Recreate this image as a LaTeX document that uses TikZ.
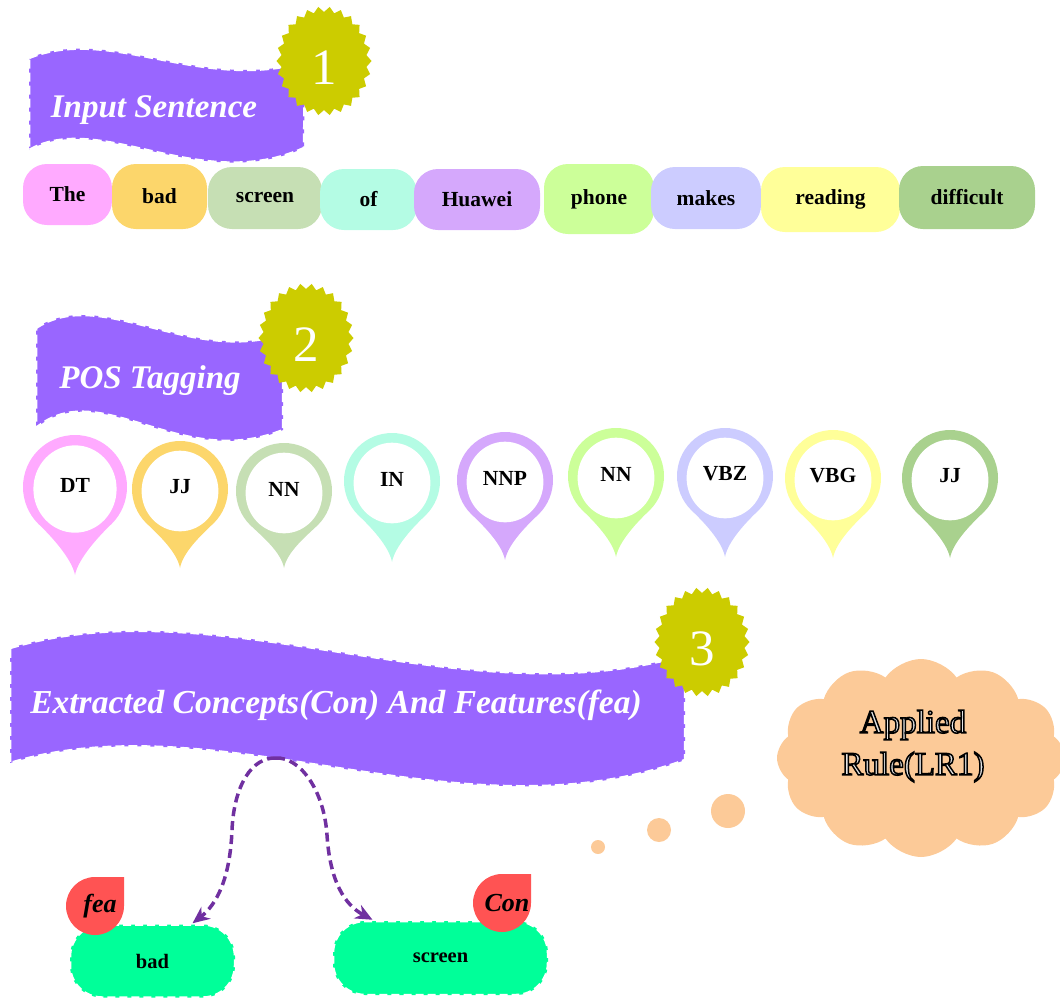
\documentclass[tikz,border=0pt]{standalone}
\usepackage{fontspec}
\setmainfont{Liberation Serif}
\usetikzlibrary{shapes.symbols, arrows.meta, calc}

% palette
\definecolor{bannerpurple}{HTML}{9966FF}
\definecolor{badgeolive}{HTML}{CCCC00}
\definecolor{cPink}{HTML}{FFAAFF}
\definecolor{cGold}{HTML}{FCD66B}
\definecolor{cSage}{HTML}{C6DFB4}
\definecolor{cMint}{HTML}{B4FCE4}
\definecolor{cLav}{HTML}{D5A8FC}
\definecolor{cLime}{HTML}{CCFF99}
\definecolor{cPeri}{HTML}{CCCCFF}
\definecolor{cLemon}{HTML}{FFFF99}
\definecolor{cGreen}{HTML}{A9D18E}
\definecolor{peach}{HTML}{FCCA98}
\definecolor{flowpurple}{HTML}{7030A0}
\definecolor{dropred}{HTML}{FF5353}
\definecolor{conceptgreen}{HTML}{00FF99}

% outlined lettering: fill and stroke the glyphs (text render mode 2)
\newcommand{\outlined}[1]{\special{pdf:literal direct 2 Tr 1.5 w 0 G}#1\special{pdf:literal direct 0 Tr}}

% numbered badge: 26-point star, slightly taller than wide
\newcommand{\badge}[4]{% #1 cx, #2 cy, #3 name, #4 digit
  \fill[badgeolive] plot[samples at={0,1,...,51}, variable=\k]
    ({#1 + 47.5*(1-0.1*mod(\k,2))*cos(360/52*\k)}, {#2 + 54.5*(1-0.1*mod(\k,2))*sin(360/52*\k)}) -- cycle;
  \node[badgetext] (#3) at (#1,#2+7) {#4};
}

% map-pin tag: ring with a pointed tail
\newcommand{\tagpin}[7]{% #1 name, #2 cx, #3 cy, #4 radius, #5 tail, #6 colour, #7 tag
  \fill[#6] (#2,#3+#5) .. controls (#2-3,#3+#5-16) and (#2-0.45*#4,#3+0.95*#4)
    .. (#2-0.7071*#4,#3+0.7071*#4) arc[start angle=135, end angle=405, radius=#4]
    .. controls (#2+0.45*#4,#3+0.95*#4) and (#2+3,#3+#5-16) .. cycle;
  \fill[white] (#2,#3+2) ellipse[x radius=0.8*#4, y radius=0.84*#4];
  \node[pintext] (#1) at (#2,#3-2) {#7};
}

% drop-shaped marker with a square top-right corner
\newcommand{\droplabel}[4]{% #1 name, #2 cx, #3 cy, #4 text
  \fill[dropred] (#2,#3-29) -- (#2+29,#3-29) -- (#2+29,#3)
    arc[start angle=0, end angle=270, radius=29] -- cycle;
  \node[droptext] (#1) at (#2+5,#3) {#4};
}

\begin{document}
\begin{tikzpicture}[x=1pt, y=-1pt,
  banner/.style={fill=bannerpurple, draw=white, line width=2.5pt, dash pattern=on 9pt off 4pt},
  bannertext/.style={text=white, font=\fontsize{33}{38}\selectfont\bfseries\itshape, anchor=base, inner sep=0pt},
  badgetext/.style={text=white, font=\fontsize{51}{56}\selectfont, inner sep=0pt},
  wordbox/.style={rounded corners=24pt, inner sep=0pt, font=\fontsize{21.5}{24}\selectfont\bfseries},
  pintext/.style={font=\fontsize{21.5}{24}\selectfont\bfseries, inner sep=0pt},
  conceptbox/.style={fill=conceptgreen, draw=white, line width=2.5pt, dash pattern=on 8pt off 4pt,
    rounded corners=32pt, inner sep=0pt, font=\fontsize{20.5}{24}\selectfont\bfseries},
  droptext/.style={font=\fontsize{26}{30}\selectfont\bfseries\itshape, inner sep=0pt},
  flow/.style={draw=flowpurple, line width=3.5pt, dash pattern=on 9pt off 5pt,
    -{Stealth[length=17pt, width=15pt]}},
  ruletext/.style={font=\fontsize{33}{42}\selectfont, align=center, inner sep=0pt},
  bubble/.style={circle, fill=peach, inner sep=0pt}
]
\useasboundingbox (0,0) rectangle (1060,1002);

% ---------- step 1: input sentence ----------
\draw[banner] (29,58) .. controls (110,25) and (200,92) .. (305,62) -- (304,148)
  .. controls (200,195) and (100,110) .. (29,150) -- cycle;
\node[bannertext] (b1) at (154,117) {Input Sentence};
\badge{324}{61}{n1}{1}

\node[wordbox, fill=cPink,  minimum width=89pt,  minimum height=61pt] (w1) at (67.5,194.5) {The};
\node[wordbox, fill=cGold,  minimum width=95pt,  minimum height=65pt] (w2) at (159.5,196.5) {bad};
\node[wordbox, fill=cSage,  minimum width=114pt, minimum height=62pt] (w3) at (265,198) {screen};
\node[wordbox, fill=cMint,  minimum width=97pt,  minimum height=61pt] (w4) at (368.5,199.5) {of};
\node[wordbox, fill=cLav,   minimum width=126pt, minimum height=61pt] (w5) at (477,199.5) {Huawei};
\node[wordbox, fill=cLime,  minimum width=110pt, minimum height=70pt] (w6) at (599,199) {phone};
\node[wordbox, fill=cPeri,  minimum width=110pt, minimum height=62pt] (w7) at (706,198) {makes};
\node[wordbox, fill=cLemon, minimum width=139pt, minimum height=65pt] (w8) at (830.5,199.5) {reading};
\node[wordbox, fill=cGreen, minimum width=136pt, minimum height=63pt] (w9) at (967,197.5) {difficult};

% ---------- step 2: POS tagging ----------
\draw[banner] (36,328) .. controls (100,285) and (190,365) .. (283,334) -- (283,430)
  .. controls (180,472) and (100,375) .. (36,428) -- cycle;
\node[bannertext] (b2) at (150,388) {POS Tagging};
\badge{306}{338}{n2}{2}

\tagpin{t1}{75}{487}{52}{88}{cPink}{DT}
\tagpin{t2}{180}{489}{48}{79}{cGold}{JJ}
\tagpin{t3}{284}{491}{48}{77}{cSage}{NN}
\tagpin{t4}{392}{481}{48}{81}{cMint}{IN}
\tagpin{t5}{505}{480}{48}{80}{cLav}{NNP}
\tagpin{t6}{616}{476}{48}{81}{cLime}{NN}
\tagpin{t7}{725}{476}{48}{81}{cPeri}{VBZ}
\tagpin{t8}{833}{478}{48}{80}{cLemon}{VBG}
\tagpin{t9}{950}{478}{48}{80}{cGreen}{JJ}

% ---------- step 3: extracted concepts and features ----------
\draw[banner] (10,648) .. controls (220,585) and (460,720) .. (685,655) -- (685,760)
  .. controls (460,842) and (220,700) .. (10,763) -- cycle;
\node[bannertext, font=\fontsize{33.5}{38}\selectfont\bfseries\itshape] (b3) at (336,713)
  {Extracted Concepts(Con) And Features(fea)};
\badge{702}{642}{n3}{3}

% thought cloud with the applied rule
\node[cloud, cloud puffs=12, cloud puff arc=110, aspect=1.45, fill=peach,
  minimum width=288pt, minimum height=198pt, inner sep=0pt] (rule) at (921,758) {};
\node[ruletext, text=gray!20] (ruletxt) at (913,746)
  {\outlined{Applied}\\\outlined{Rule(LR1)}};

\node[bubble, minimum size=34pt] (dotA) at (728,811) {};
\node[bubble, minimum size=24pt] (dotB) at (659,830) {};
\node[bubble, minimum size=14pt] (dotC) at (598,847) {};

% extracted items
\node[conceptbox, minimum width=165pt, minimum height=73pt] (badbox) at (152.5,961) {bad};
\node[conceptbox, minimum width=215pt, minimum height=74pt] (scrbox) at (440.5,958) {screen};

\coordinate (split) at (276,758);
\draw[flow] (split) .. controls (252,757) and (234,785) .. (232,830)
  .. controls (230,880) and (216,905) .. ([xshift=40pt]badbox.north);
\draw[flow] (split) .. controls (300,757) and (324,790) .. (327,835)
  .. controls (330,882) and (345,905) .. ([xshift=-68pt]scrbox.north);

\droplabel{fea}{95}{906}{fea}
\droplabel{con}{502}{903}{Con}

\end{tikzpicture}
\end{document}
